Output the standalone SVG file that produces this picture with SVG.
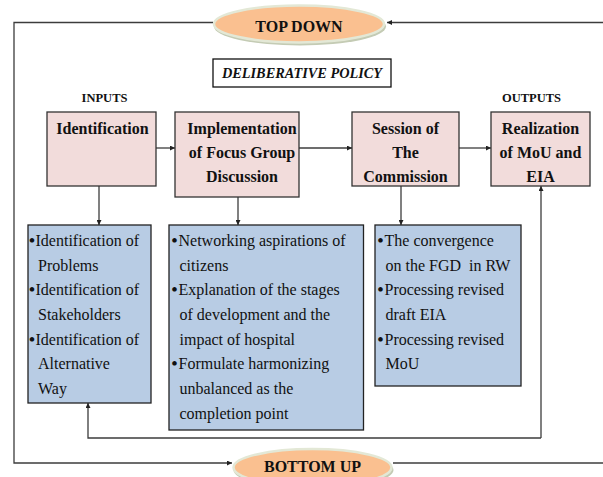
<svg xmlns="http://www.w3.org/2000/svg" width="603" height="477" viewBox="0 0 603 477">
<style>
  .bg{fill:#ffffff}
  .line{fill:none;stroke:#3c3c3c;stroke-width:1.3}
  .arr{fill:none;stroke:#3c3c3c;stroke-width:1.3;marker-end:url(#ah)}
  .head{fill:#f2dcdb;stroke:#333333;stroke-width:1.3}
  .list{fill:#b8cce4;stroke:#222222;stroke-width:1.3}
  .oval{fill:#fac090;stroke:#e3e8d6;stroke-width:2.5}
  .shadow{fill:#c4cbb4}
  .hb{font-family:"Liberation Serif","Times New Roman",serif;font-weight:bold;font-size:16px;fill:#111;text-anchor:middle}
  .lbl{font-family:"Liberation Serif","Times New Roman",serif;font-weight:bold;font-size:12.5px;fill:#111;text-anchor:middle}
  .tx{font-family:"Liberation Serif","Times New Roman",serif;font-size:16px;fill:#111}
  .bul{font-family:"Liberation Serif","Times New Roman",serif;font-size:17px;font-weight:bold;fill:#111}
</style>
<defs>
  <marker id="ah" viewBox="0 0 10 10" refX="10" refY="5" markerWidth="5" markerHeight="5" orient="auto" markerUnits="userSpaceOnUse">
    <path d="M0,0 L10,5 L0,10 z" fill="#222"/>
  </marker>
</defs>
<rect class="bg" x="0" y="0" width="603" height="477"/>

<g id="connectors">
  <path class="arr" d="M603,22.5 L387,22.5"/>
  <path class="arr" d="M213,22.5 L14,22.5 L14,463 L232,463"/>
  <path class="line" d="M393,463 L603,463"/>
  <path class="arr" d="M156,148 L175,148"/>
  <path class="arr" d="M299,148 L352,148"/>
  <path class="arr" d="M459,148 L491,148"/>
  <path class="arr" d="M99,186 L99,225"/>
  <path class="arr" d="M238,197 L238,225"/>
  <path class="arr" d="M401,186 L401,225"/>
  <path class="arr" d="M541,438 L541,186"/>
  <path class="arr" d="M541,438 L88,438 L88,403"/>
</g>

<g id="top-down">
  <ellipse class="shadow" cx="300" cy="26.5" rx="86" ry="19"/>
  <ellipse class="oval" cx="299" cy="24" rx="85" ry="18.5"/>
  <text class="hb" x="299" y="32">TOP DOWN</text>
</g>

<g id="bottom-up">
  <ellipse class="shadow" cx="313.5" cy="470" rx="80" ry="19"/>
  <ellipse class="oval" cx="312.5" cy="467.5" rx="79" ry="18.5"/>
  <text class="hb" x="312.5" y="472">BOTTOM UP</text>
</g>

<g id="deliberative-policy">
  <rect x="213" y="59" width="178" height="28" fill="#fff" stroke="#111" stroke-width="1.3"/>
  <text x="302" y="78" font-family="'Liberation Serif','Times New Roman',serif" font-weight="bold" font-style="italic" font-size="14.3" fill="#111" text-anchor="middle">DELIBERATIVE POLICY</text>
</g>

<g id="inputs-label"><text class="lbl" x="104.5" y="102" font-size="12">INPUTS</text></g>
<g id="outputs-label"><text class="lbl" x="531.5" y="102">OUTPUTS</text></g>

<g id="identification">
  <rect class="head" x="47" y="112" width="109" height="74"/>
  <text class="hb" x="102.5" y="134">Identification</text>
</g>

<g id="implementation">
  <rect class="head" x="175" y="112" width="124" height="85"/>
  <text class="hb" x="242" y="134">Implementation</text>
  <text class="hb" x="242" y="158">of Focus Group</text>
  <text class="hb" x="242" y="182">Discussion</text>
</g>

<g id="session">
  <rect class="head" x="352" y="112" width="107" height="74"/>
  <text class="hb" x="405.5" y="134">Session of</text>
  <text class="hb" x="405.5" y="158">The</text>
  <text class="hb" x="405.5" y="182">Commission</text>
</g>

<g id="realization">
  <rect class="head" x="491" y="112" width="99" height="74"/>
  <text class="hb" x="540.5" y="134">Realization</text>
  <text class="hb" x="540.5" y="158">of MoU and</text>
  <text class="hb" x="540.5" y="182">EIA</text>
</g>

<g id="identification-list">
  <rect class="list" x="28" y="225" width="123" height="178"/>
  <text class="bul" x="29" y="246">•</text>
  <text class="tx" x="35.5" y="246">Identification of</text>
  <text class="tx" x="38" y="270.5">Problems</text>
  <text class="bul" x="29" y="295">•</text>
  <text class="tx" x="35.5" y="295">Identification of</text>
  <text class="tx" x="38" y="320">Stakeholders</text>
  <text class="bul" x="29" y="344.5">•</text>
  <text class="tx" x="35.5" y="344.5">Identification of</text>
  <text class="tx" x="38" y="369">Alternative</text>
  <text class="tx" x="38" y="394">Way</text>
</g>

<g id="implementation-list">
  <rect class="list" x="169" y="225" width="194.5" height="205"/>
  <text class="bul" x="171.5" y="246">•</text>
  <text class="tx" x="178.5" y="246">Networking aspirations of</text>
  <text class="tx" x="179.5" y="270.5">citizens</text>
  <text class="bul" x="171.5" y="295">•</text>
  <text class="tx" x="178.5" y="295">Explanation of the stages</text>
  <text class="tx" x="179.5" y="320">of development and the</text>
  <text class="tx" x="179.5" y="344.5">impact of hospital</text>
  <text class="bul" x="171.5" y="369">•</text>
  <text class="tx" x="178.5" y="369">Formulate harmonizing</text>
  <text class="tx" x="179.5" y="394">unbalanced as the</text>
  <text class="tx" x="179.5" y="418.5">completion point</text>
</g>

<g id="session-list">
  <rect class="list" x="375" y="225" width="146" height="161"/>
  <text class="bul" x="377.5" y="246">•</text>
  <text class="tx" x="384.5" y="246">The convergence</text>
  <text class="tx" x="385.5" y="270.5" xml:space="preserve">on the FGD  in RW</text>
  <text class="bul" x="377.5" y="295">•</text>
  <text class="tx" x="384.5" y="295">Processing revised</text>
  <text class="tx" x="385.5" y="320">draft EIA</text>
  <text class="bul" x="377.5" y="344.5">•</text>
  <text class="tx" x="384.5" y="344.5">Processing revised</text>
  <text class="tx" x="385.5" y="369">MoU</text>
</g>
</svg>
